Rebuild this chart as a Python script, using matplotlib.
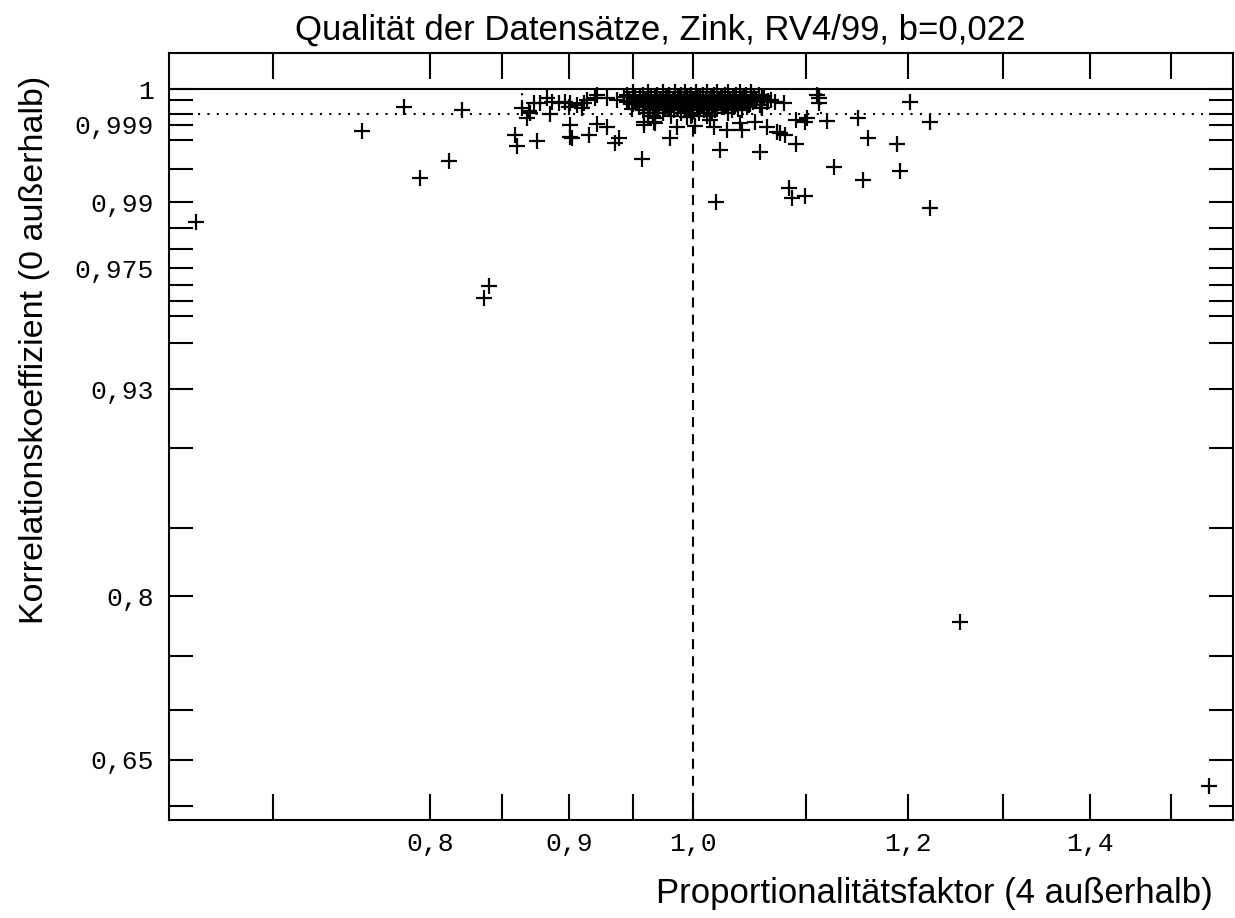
import numpy as np
import matplotlib
matplotlib.use("Agg")
import matplotlib.pyplot as plt
from matplotlib.ticker import NullFormatter

# Proportionalitaetsfaktor / Korrelationskoeffizient je Datensatz
faktor_rand = [0.6556, 0.7551, 0.7822, 0.7934, 0.8126, 0.8219, 0.8376, 0.8412,
               0.8600, 0.8612, 0.8759, 0.8648, 0.8685, 0.8696, 0.8709, 0.8734,
               0.8783, 0.8834, 0.8858, 0.8870, 0.8921, 0.8972, 0.8997, 0.9010,
               0.9010, 0.9010, 0.9020, 0.9061, 0.9099, 0.9112, 0.9138, 0.9150,
               0.9203, 0.9216, 0.9216, 0.9294, 0.9294, 0.9360, 0.9387, 0.9374,
               0.9426, 0.9453, 0.9574, 0.9587, 0.9587, 0.9669, 0.9683, 0.9683,
               0.9807, 0.9863, 0.9947, 0.9989, 1.0017,
               1.0145, 1.0174, 1.0197, 1.0232, 1.0290, 1.0406, 1.0422, 1.0540,
               1.0584, 1.0600, 1.0645, 1.0645, 1.0736, 1.0766, 1.0796, 1.0811,
               1.0850, 1.0873, 1.0912, 1.0912, 1.0996, 1.0996, 1.1011, 1.1106,
               1.1121, 1.1121, 1.1200, 1.1263, 1.1504, 1.1547, 1.1602, 1.1885,
               1.1918, 1.2020, 1.2225, 1.2225, 1.2540, 1.5490]
korr_rand = [0.9863, 0.99865, 0.99976, 0.99388, 0.99597, 0.99966, 0.9660, 0.9698,
             0.99835, 0.9975, 0.9979, 0.99971, 0.99933, 0.99962, 0.99954, 0.99984,
             0.99984, 0.99993, 0.99950, 0.99987, 0.99984, 0.99987, 0.99976, 0.99984,
             0.99899, 0.99823, 0.99810, 0.99980, 0.99971, 0.99984, 0.99991, 0.99835,
             0.99993, 0.99997, 0.99903, 0.99890, 0.99993, 0.99771, 0.99811, 0.99991,
             0.99995, 0.99987, 0.99619, 0.99899, 0.99917, 0.99917, 0.99909, 0.99933,
             0.99811, 0.99890, 0.99940, 0.99947, 0.99895,
             0.99925, 0.99890, 0.99012, 0.99711, 0.99869, 0.99909, 0.99869, 0.99914,
             0.99694, 0.99971, 0.99890, 0.99987, 0.99858, 0.99847, 0.99984, 0.99835,
             0.99242, 0.99071, 0.99762, 0.99925, 0.99917, 0.99115, 0.99933, 0.99997,
             0.99993, 0.99984, 0.99920, 0.99530, 0.99933, 0.99356, 0.99816, 0.99762,
             0.99477, 0.99986, 0.99917, 0.98904, 0.7791, 0.6222]

# dichter Kern um 1,0
faktor_kern = [0.950, 0.962, 0.975, 0.985, 0.993, 1.002, 1.012, 1.020, 1.030, 1.040, 1.050,
               0.945, 0.958, 0.970, 0.980, 0.990, 0.998, 1.008, 1.018, 1.027, 1.037, 1.046, 1.057,
               0.952, 0.965, 0.977, 0.987, 0.995, 1.004, 1.015, 1.024, 1.034, 1.043, 1.053, 1.062,
               0.947, 0.960, 0.972, 0.983, 0.992, 1.001, 1.011, 1.021, 1.031, 1.045, 1.055, 1.065,
               0.950, 0.963, 0.978, 0.988, 0.997, 1.007, 1.017, 1.028, 1.038, 1.049,
               0.955, 0.967, 0.980, 0.994, 1.003, 1.013, 1.025, 1.035, 1.047,
               0.958, 0.970, 0.984, 0.996, 1.009, 1.019, 1.033, 1.042,
               0.962, 0.975, 0.990, 1.005, 1.016, 1.030,
               0.966, 0.981, 0.998, 1.012,
               0.956, 0.968, 0.979, 0.989, 0.997, 1.006, 1.016, 1.025, 1.035, 1.044, 1.060,
               0.951, 0.961, 0.973, 0.984, 0.994, 1.003, 1.014, 1.023, 1.032, 1.041, 1.051, 1.068,
               0.953, 0.966, 0.976, 0.986, 0.999, 1.010, 1.022, 1.029, 1.039, 1.052, 1.072,
               0.959, 0.971, 0.982, 0.991, 1.000, 1.012, 1.026, 1.036, 1.048, 1.058,
               0.949, 0.964, 0.976, 0.987, 0.993, 1.006, 1.020, 1.039]
korr_kern = [0.999993] * 11 + [0.99997] * 12 + [0.99994] * 12 + [0.99989] * 12 + \
            [0.99983] * 10 + [0.99975] * 9 + [0.99966] * 8 + [0.99955] * 6 + [0.99943] * 4 + \
            [0.99996] * 11 + [0.99991] * 12 + [0.99986] * 11 + [0.99979] * 10 + [0.99970] * 8

x_haupt = [0.8, 0.9, 1.0, 1.2, 1.4]
x_haupt_text = ["0,8", "0,9", "1,0", "1,2", "1,4"]
x_neben = [0.7, 0.85, 0.95, 1.1, 1.3, 1.5]
y_haupt = [1.0, 0.999, 0.99, 0.975, 0.93, 0.8, 0.65]
y_haupt_text = ["1", "0,999", "0,99", "0,975", "0,93", "0,8", "0,65"]
y_neben = [0.9999, 0.9995, 0.998, 0.995, 0.985, 0.98, 0.97, 0.965, 0.96,
           0.95, 0.9, 0.85, 0.75, 0.7, 0.6]

grenze_r = 0.9995
grenze_x = [0.865, 1.114]


def vorwaerts(r):
    u = 1 - np.asarray(r, dtype=float)
    return -np.sign(u) * np.sqrt(np.abs(u))


def rueckwaerts(t):
    t = np.asarray(t, dtype=float)
    return 1 + np.sign(t) * t ** 2


fig = plt.figure(figsize=(12.35, 9.18), dpi=100)
ax = fig.add_axes([169 / 1235, 1 - 820 / 918, 1064 / 1235, 767 / 918])
ax.set_xscale("log")
ax.set_yscale("function", functions=(vorwaerts, rueckwaerts))
ax.set_xlim(0.641, 1.5806)
ax.set_ylim(0.5845, 1.001008)

ax.axhline(1.0, color="black", lw=1.5)
ax.vlines(1.0, 0.5845, 1.0, colors="black", lw=1.5, linestyles=(0, (4.8, 3.4)))
ax.hlines(grenze_r, 0.657, 1.541, colors="black", lw=1.5, linestyles=(0, (1, 3.5)))
ax.vlines(grenze_x, grenze_r, 1.0, colors="black", lw=1.5, linestyles=(0, (1, 3.5)))

ax.plot(faktor_rand + faktor_kern, korr_rand + korr_kern, "+", color="black",
        markersize=11, markeredgewidth=1.6)

ax.set_xticks(x_haupt)
ax.set_xticklabels(x_haupt_text)
ax.set_xticks(x_neben, minor=True)
ax.xaxis.set_minor_formatter(NullFormatter())
ax.set_yticks(y_haupt)
ax.set_yticklabels(y_haupt_text)
ax.set_yticks(y_neben, minor=True)
ax.yaxis.set_minor_formatter(NullFormatter())

ax.tick_params(axis="x", which="both", direction="in", top=True, bottom=True,
               length=19, width=1.5, pad=9)
ax.tick_params(axis="y", which="both", direction="in", left=True, right=True,
               length=17, width=1.5, pad=11)
for lab in ax.get_xticklabels() + ax.get_yticklabels():
    lab.set_family("Liberation Mono")
    lab.set_fontsize(19)
for s in ax.spines.values():
    s.set_linewidth(1.5)

fig.text(0.535, 1 - 30 / 918, "Qualität der Datensätze, Zink, RV4/99, b=0,022",
         ha="center", va="center", fontsize=25, family="Liberation Sans")
fig.text(1213 / 1235, 1 - 893 / 918, "Proportionalitätsfaktor (4 außerhalb)",
         ha="right", va="center", fontsize=25, family="Liberation Sans")
fig.text(35 / 1235, 1 - 350 / 918, "Korrelationskoeffizient (0 außerhalb)",
         ha="center", va="center", rotation=90, fontsize=24.5, family="Liberation Sans")

fig.savefig("out.png", dpi=100)
